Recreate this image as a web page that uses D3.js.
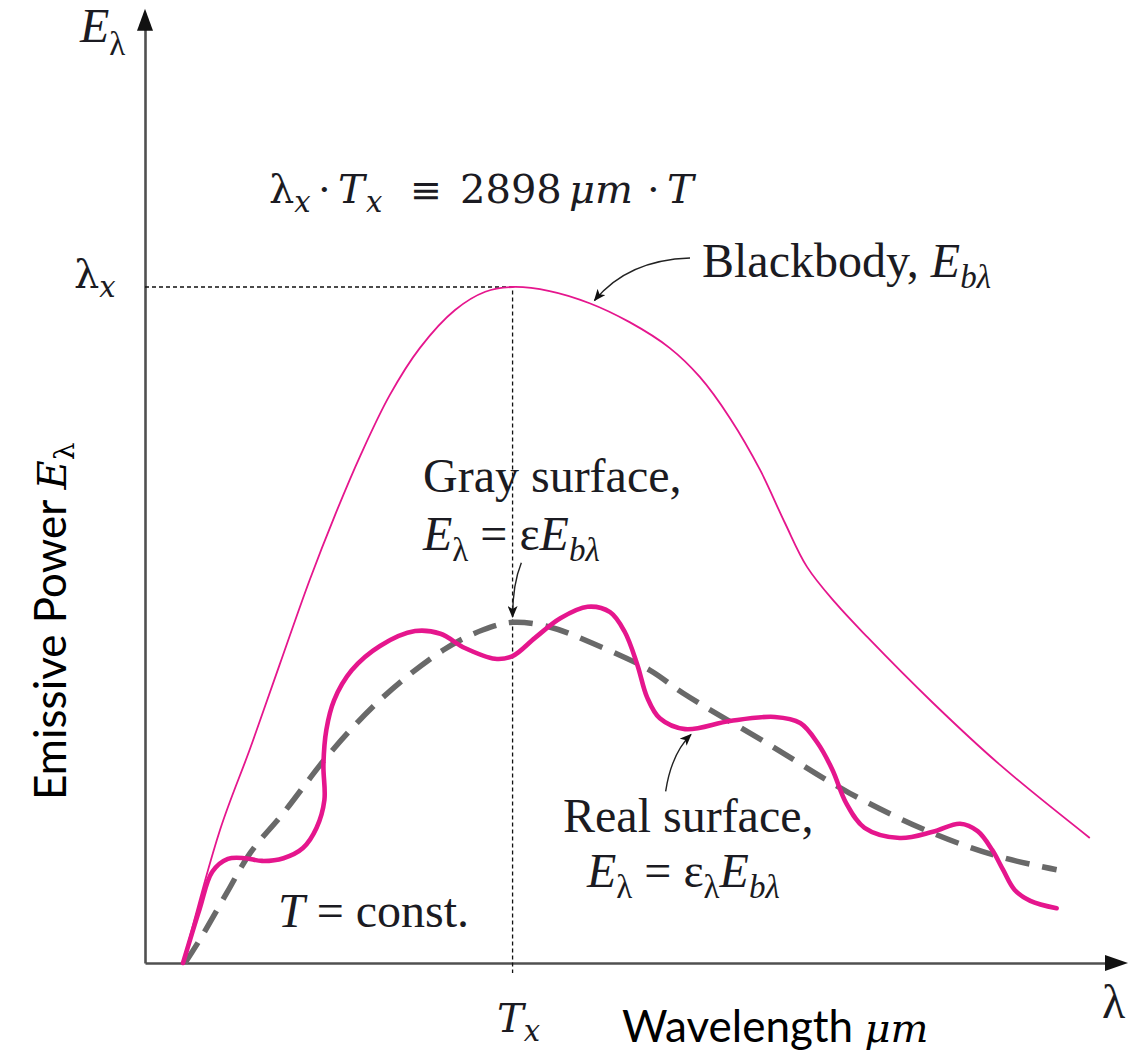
<!DOCTYPE html>
<html><head><meta charset="utf-8">
<script src="https://cdn.jsdelivr.net/npm/d3@7"></script>
<style>body{margin:0;background:#fff} svg{display:block} text{white-space:pre}</style>
</head><body><svg id="c" width="1129" height="1056"></svg>
<script>
// ---- data (relative wavelength units, emissive power normalised to blackbody peak) ----
const blackbodyX = [0.39,0.77,1.08,1.38,1.69,1.95,2.21,2.51,2.82,3.18,3.49,3.77,4.15,4.56,4.97,5.38,5.69,6.0,6.31,6.56,6.79,7.08,7.41,8.08,8.77,9.69];
const blackbodyY = [0,0.197,0.318,0.441,0.567,0.663,0.751,0.840,0.910,0.966,0.993,1.0,0.994,0.976,0.948,0.910,0.867,0.806,0.729,0.652,0.586,0.533,0.482,0.385,0.293,0.185];

const realX = [0.39,0.56,0.69,0.85,1.03,1.20,1.42,1.62,1.76,1.84,1.83,1.86,1.94,2.12,2.41,2.77,3.03,3.28,3.59,3.77,4.0,4.26,4.54,4.77,4.92,5.05,5.15,5.28,5.54,6.0,6.46,6.72,6.90,7.05,7.19,7.38,7.74,8.08,8.36,8.54,8.69,8.80,8.92,9.08,9.35];
const realY = [0,0.080,0.135,0.154,0.155,0.151,0.155,0.170,0.200,0.241,0.293,0.345,0.389,0.433,0.469,0.491,0.487,0.466,0.450,0.454,0.481,0.510,0.527,0.519,0.490,0.441,0.393,0.362,0.346,0.358,0.364,0.355,0.325,0.286,0.237,0.200,0.185,0.194,0.206,0.195,0.167,0.138,0.108,0.092,0.081];

const grayX = [0.41,0.56,0.84,1.08,1.42,1.90,2.44,3.06,3.47,3.77,4.15,4.59,5.18,5.52,6.38,7.23,8.08,8.77,9.35];
const grayY = [0,0.034,0.104,0.163,0.222,0.311,0.393,0.463,0.493,0.504,0.497,0.473,0.433,0.399,0.325,0.251,0.192,0.157,0.138];

const peakX = 3.77, peakY = 1.0;

// ---- layout ----
const svg = d3.select("#c");
const x = d3.scaleLinear().domain([0, 10]).range([145, 1120]);
const y = d3.scaleLinear().domain([0, 1]).range([963, 287]);
const yExt = d3.scaleLinear().domain([0, 1.385]).range([y(0), y(1.385)]);

const PINK = "#e5168d", GRAY = "#696969", INK = "#1b1b22";
const SERIF = "'Liberation Serif','Times New Roman',serif";
const MATH = "'DejaVu Serif',serif";
const SANS = "Lato,'Open Sans',sans-serif";
const FS = 48, SUB = 33;

const defs = svg.append("defs");
defs.append("marker").attr("id","ah").attr("viewBox","0 0 12 10")
  .attr("refX",11).attr("refY",5).attr("markerWidth",13).attr("markerHeight",10)
  .attr("markerUnits","userSpaceOnUse").attr("orient","auto")
  .append("path").attr("d","M0,0 L12,5 L0,10 L3,5 z").attr("fill","#111");

// axes
const gx = svg.append("g").attr("transform", `translate(0,${y(0)})`)
  .call(d3.axisBottom(x).tickValues([]).tickSizeOuter(0));
const gy = svg.append("g").attr("transform", `translate(${x(0)},0)`)
  .call(d3.axisLeft(yExt).tickValues([]).tickSizeOuter(0));
[gx, gy].forEach(g => g.select(".domain").attr("stroke", "#505050").attr("stroke-width", 2.6));
svg.append("path").attr("d", `M${x(0)-8},${yExt.range()[1]+4} L${x(0)},${yExt.range()[1]-18} L${x(0)+8},${yExt.range()[1]+4} Z`).attr("fill","#111");
svg.append("path").attr("d", `M${x.range()[1]-15},${y(0)-8} L${x.range()[1]+8},${y(0)} L${x.range()[1]-15},${y(0)+8} Z`).attr("fill","#111");

// guide lines
svg.append("path")
  .attr("d", `M${x(0)},${y(peakY)} H${x(peakX)} V${y(0)+10}`)
  .attr("fill","none").attr("stroke","#111").attr("stroke-width",1.3).attr("stroke-dasharray","4,3");

const line = d3.line().x(d => x(d[0])).y(d => y(d[1])).curve(d3.curveCatmullRom.alpha(0.5));

svg.append("path").datum(grayX.map((v,i)=>[v,grayY[i]])).attr("d", line)
  .attr("fill","none").attr("stroke",GRAY).attr("stroke-width",5.5).attr("stroke-dasharray","24,13");
svg.append("path").datum(blackbodyX.map((v,i)=>[v,blackbodyY[i]])).attr("d", line)
  .attr("fill","none").attr("stroke",PINK).attr("stroke-width",1.8);
svg.append("path").datum(realX.map((v,i)=>[v,realY[i]])).attr("d", line)
  .attr("fill","none").attr("stroke",PINK).attr("stroke-width",4.6).attr("stroke-linecap","round");

// annotation arrows (in data units)
function arrow(p0, c, p1) {
  const p = d3.path();
  p.moveTo(x(p0[0]), y(p0[1]));
  p.quadraticCurveTo(x(c[0]), y(c[1]), x(p1[0]), y(p1[1]));
  svg.append("path").attr("d", p.toString()).attr("fill","none")
    .attr("stroke","#222").attr("stroke-width",1.4).attr("marker-end","url(#ah)");
}
arrow([5.59,1.043],[4.95,1.04],[4.61,0.980]);
arrow([3.86,0.592],[3.77,0.56],[3.77,0.512]);
arrow([5.34,0.254],[5.40,0.31],[5.60,0.338]);

// rich text helper
function rich(x0, y0, parts, rot) {
  const t = svg.append("text").attr("x", x0).attr("y", y0).attr("fill", INK);
  if (rot) t.attr("transform", `rotate(-90,${x0},${y0})`);
  let cur = 0;
  parts.forEach(p => {
    const off = p.sub || 0;
    const ts = t.append("tspan").text(p.t)
      .attr("font-family", p.f || SERIF).attr("font-size", p.s || FS)
      .attr("font-style", p.i ? "italic" : "normal")
      .attr("dy", off - cur);
    if (p.x != null) ts.attr("x", p.x);
    if (p.c) ts.attr("fill", p.c);
    cur = off;
  });
  return t;
}

// top-left axis name
rich(80, 42, [{t:"E", i:1}, {t:"λ", s:SUB, sub:13}]);
// λx label
rich(74, 288, [{t:"λ", f:MATH, s:40}, {t:"x", f:MATH, s:29, i:1, sub:9}]);
// formula
rich(269, 203, [
  {t:"λ", f:MATH, s:40},
  {t:"x", f:MATH, s:29, i:1, sub:9},
  {t:"·", f:MATH, s:40, x:318},
  {t:"T", f:MATH, s:40, i:1, x:338},
  {t:"x", f:MATH, s:29, i:1, sub:9, x:366},
  {t:"≡", f:MATH, s:38, x:410},
  {t:"2898", f:MATH, s:40, x:460},
  {t:"μm", f:MATH, s:40, i:1, x:569},
  {t:"·", f:MATH, s:40, x:647},
  {t:"T", f:MATH, s:40, i:1, x:667}
]);
// Blackbody
rich(702, 277, [{t:"Blackbody, "}, {t:"E", i:1}, {t:"bλ", i:1, s:SUB, sub:11}]);
// Gray
rich(423, 492, [{t:"Gray surface,"}]);
rich(423, 550, [{t:"E", i:1}, {t:"λ", s:SUB, sub:11}, {t:" = ε"}, {t:"E", i:1}, {t:"bλ", i:1, s:SUB, sub:11}]);
// Real
rich(563, 832, [{t:"Real surface,"}]);
rich(587, 887, [{t:"E", i:1}, {t:"λ", s:SUB, sub:11}, {t:" = ε"}, {t:"λ", s:SUB, sub:11}, {t:"E", i:1}, {t:"bλ", i:1, s:SUB, sub:11}]);
// T = const.
rich(278, 927, [{t:"T", i:1}, {t:" = const."}]);
// axis end λ
rich(1102, 1018, [{t:"λ", s:48}]);
// Tx
rich(497, 1032, [{t:"T", f:MATH, s:40, i:1}, {t:"x", f:MATH, s:29, i:1, sub:9}]);
// x label
rich(622, 1042, [{t:"Wavelength ", f:SANS, s:44, c:"#000"}, {t:"μm", f:MATH, s:40, i:1, c:"#000"}]);
// y label
rich(66, 800, [{t:"Emissive Power ", f:SANS, s:44, c:"#000"}, {t:"E", f:MATH, s:40, i:1, c:"#000"}, {t:"λ", f:MATH, s:28, sub:8, c:"#000"}], true);
</script></body></html>
